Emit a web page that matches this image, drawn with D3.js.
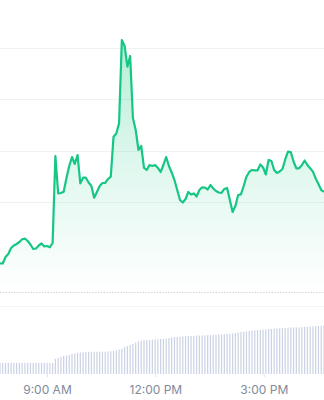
<!DOCTYPE html>
<html>
<head>
<meta charset="utf-8">
<script src="https://cdn.jsdelivr.net/npm/d3@7"></script>
<style>
  html, body { margin: 0; padding: 0; background: #fff; }
  svg { display: block; }
</style>
</head>
<body>
<svg id="chart" width="324" height="400"></svg>
<script>
// price samples, evenly spaced from 7:42 to 16:40
var prices = [
  1.3800, 1.3796, 1.3923, 1.3982, 1.4099, 1.4148, 1.4177, 1.4216, 1.4269, 1.4281,
  1.4236, 1.4167, 1.4080, 1.4089, 1.4148, 1.4187, 1.4128, 1.4138, 1.4113, 1.4197,
  1.5895, 1.5167, 1.5173, 1.5198, 1.5465, 1.5700, 1.5875, 1.5739, 1.5914, 1.5362,
  1.5471, 1.5471, 1.5378, 1.5309, 1.5081, 1.5192, 1.5309, 1.5368, 1.5368, 1.5446,
  1.5491, 1.6272, 1.6334, 1.6533, 1.8159, 1.8042, 1.7638, 1.7847, 1.6637, 1.6402,
  1.6012, 1.6090, 1.5661, 1.5622, 1.5719, 1.5700, 1.5719, 1.5661, 1.5583, 1.5719,
  1.5875, 1.5700, 1.5573, 1.5426, 1.5231, 1.5036, 1.4987, 1.5056, 1.5192, 1.5143,
  1.5163, 1.5104, 1.5231, 1.5284, 1.5276, 1.5241, 1.5329, 1.5260, 1.5212, 1.5182,
  1.5173, 1.5251, 1.5270, 1.5036, 1.4802, 1.4919, 1.5134, 1.5147, 1.5309, 1.5491,
  1.5583, 1.5622, 1.5616, 1.5616, 1.5729, 1.5670, 1.5534, 1.5817, 1.5797, 1.5622,
  1.5563, 1.5592, 1.5641, 1.5827, 1.5979, 1.5973, 1.5788, 1.5655, 1.5655, 1.5715,
  1.5807, 1.5719, 1.5655, 1.5590, 1.5456, 1.5348, 1.5231, 1.5198
];

var volumes = [
  11, 11, 11, 11, 11, 11, 11, 11, 11, 11,
  11, 11, 11, 11, 11, 11, 11, 11, 11, 11,
  15, 16, 17, 18, 18.5, 19, 20, 20.5, 21, 21.5,
  21.7, 22, 22, 22.2, 22.3, 22.3, 22.3, 22.3, 22.3, 22.5,
  22.7, 23, 23.5, 24.5, 25.5, 27, 28, 29, 30, 31.5,
  32.5, 33.5, 34, 34, 34, 34.2, 34.5, 34.7, 35, 35.2,
  35.5, 36, 36.5, 37, 37, 37.2, 37.5, 37.7, 38, 38,
  38.2, 38.3, 38.5, 38.6, 38.7, 38.8, 38.9, 39, 39.3, 39.5,
  39.7, 39.8, 40, 40.2, 40.6, 41, 41.5, 42, 42.3, 42.5,
  43, 43.3, 43.6, 43.9, 44, 44.3, 44.6, 44.9, 45.1, 45.3,
  45.5, 45.7, 45.9, 46.1, 46.3, 46.5, 46.6, 46.6, 46.7, 46.8,
  47, 47.3, 47.5, 47.7, 47.8, 48, 48.1, 48.3
];

var gridValues = [1.5, 1.6, 1.7, 1.8];
var tickTimes = [[9, 0], [12, 0], [15, 0]];
var startTime = new Date(2024, 0, 1, 7, 42);
var endTime = new Date(2024, 0, 1, 16, 40);

var width = 324, height = 400;
var priceBottom = 292, volTop = 306, volBottom = 374;

var times = prices.map(function(p, i) {
  return new Date(+startTime + i * (endTime - startTime) / (prices.length - 1));
});
var data = prices.map(function(p, i) {
  return {t: times[i], price: p, vol: volumes[i]};
});

var svg = d3.select('#chart');

var x = d3.scaleTime()
  .domain([startTime, endTime])
  .range([0, width]);

var y = d3.scaleLinear()
  .domain([1.324, 1.894])
  .range([priceBottom, 0]);

var yVol = d3.scaleLinear()
  .domain([0, 68])
  .range([volBottom, volTop]);

var defs = svg.append('defs');
var grad = defs.append('linearGradient')
  .attr('id', 'areaGrad')
  .attr('gradientUnits', 'userSpaceOnUse')
  .attr('x1', 0).attr('x2', 0)
  .attr('y1', y(1.82)).attr('y2', priceBottom);
grad.append('stop').attr('offset', '0%').attr('stop-color', '#16c784').attr('stop-opacity', 0.32);
grad.append('stop').attr('offset', '45%').attr('stop-color', '#16c784').attr('stop-opacity', 0.15);
grad.append('stop').attr('offset', '100%').attr('stop-color', '#16c784').attr('stop-opacity', 0.0);

// gridlines
svg.selectAll('.grid')
  .data(gridValues)
  .join('line')
  .attr('class', 'grid')
  .attr('x1', 0)
  .attr('x2', width)
  .attr('y1', d => Math.round(y(d)) + 0.5)
  .attr('y2', d => Math.round(y(d)) + 0.5)
  .attr('stroke', '#f0f1f3')
  .attr('stroke-width', 1);

// dotted baseline
svg.append('line')
  .attr('x1', 0).attr('x2', width)
  .attr('y1', priceBottom + 0.5).attr('y2', priceBottom + 0.5)
  .attr('stroke', '#cdd1d8')
  .attr('stroke-width', 1)
  .attr('stroke-dasharray', '1.4,1.4');

// volume panel top line
svg.append('line')
  .attr('x1', 0).attr('x2', width)
  .attr('y1', volTop + 0.5).attr('y2', volTop + 0.5)
  .attr('stroke', '#f3f4f6')
  .attr('stroke-width', 1);

var area = d3.area()
  .x(d => x(d.t))
  .y0(priceBottom)
  .y1(d => y(d.price));

var line = d3.line()
  .x(d => x(d.t))
  .y(d => y(d.price));

svg.append('path')
  .datum(data)
  .attr('d', area)
  .attr('fill', 'url(#areaGrad)');

svg.append('path')
  .datum(data)
  .attr('d', line)
  .attr('fill', 'none')
  .attr('stroke', '#16c784')
  .attr('stroke-width', 2.2)
  .attr('stroke-linejoin', 'round');

// volume bars
svg.selectAll('.vol')
  .data(data)
  .join('rect')
  .attr('class', 'vol')
  .attr('x', d => x(d.t) - 0.6)
  .attr('width', 1.2)
  .attr('y', d => yVol(d.vol))
  .attr('height', d => volBottom - yVol(d.vol))
  .attr('fill', '#cad2e4');

// x axis
var xAxis = d3.axisBottom(x)
  .tickValues(tickTimes.map(t => new Date(2024, 0, 1, t[0], t[1])))
  .tickFormat(d3.timeFormat('%-I:%M %p'))
  .tickSize(3)
  .tickPadding(8);

var gx = svg.append('g')
  .attr('transform', 'translate(0,' + volBottom + ')')
  .call(xAxis);
gx.select('.domain').remove();
gx.selectAll('line').attr('stroke', '#dfe2e8');
gx.selectAll('text')
  .attr('fill', '#808a9d')
  .style('font-family', 'Inter, "Noto Sans", sans-serif')
  .style('font-size', '12px');
</script>
</body>
</html>
